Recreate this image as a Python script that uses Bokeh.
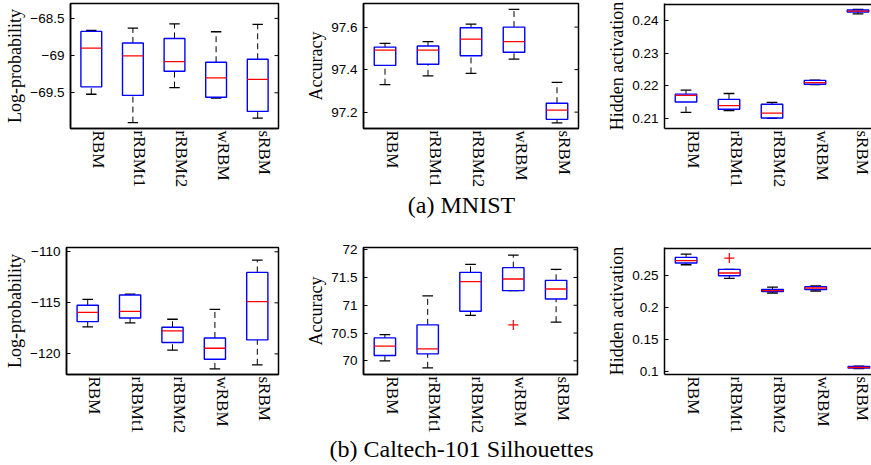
from bokeh.plotting import figure
from bokeh.layouts import column, row
from bokeh.models import Range1d, FixedTicker, Span
from bokeh.embed import file_html
from bokeh.resources import INLINE
from bokeh.core.properties import value

categories = ["RBM", "rRBMt1", "rRBMt2", "wRBM", "sRBM"]

# ---------- (a) MNIST ----------
mnist_logp_lo = [-69.52, -69.90, -69.43, -69.57, -69.84]
mnist_logp_q1 = [-69.42, -69.535, -69.21, -69.56, -69.75]
mnist_logp_med = [-68.90, -69.005, -69.08, -69.30, -69.32]
mnist_logp_q3 = [-68.675, -68.83, -68.77, -69.09, -69.05]
mnist_logp_hi = [-68.66, -68.63, -68.575, -68.68, -68.58]
mnist_logp_out_cat = []
mnist_logp_out_val = []
mnist_logp_ticks = [-69.5, -69.0, -68.5]
mnist_logp_tick_labels = ["\u221269.5", "\u221269", "\u221268.5"]

mnist_acc_lo = [97.329, 97.371, 97.382, 97.449, 97.149]
mnist_acc_q1 = [97.42, 97.425, 97.465, 97.482, 97.166]
mnist_acc_med = [97.492, 97.492, 97.543, 97.532, 97.209]
mnist_acc_q3 = [97.506, 97.511, 97.597, 97.60, 97.242]
mnist_acc_hi = [97.523, 97.532, 97.614, 97.683, 97.34]
mnist_acc_out_cat = []
mnist_acc_out_val = []
mnist_acc_ticks = [97.2, 97.4, 97.6]
mnist_acc_tick_labels = ["97.2", "97.4", "97.6"]

mnist_hid_lo = [0.2119, 0.2125, 0.2101, 0.2204, 0.2420]
mnist_hid_q1 = [0.2151, 0.2129, 0.2102, 0.2205, 0.2426]
mnist_hid_med = [0.2171, 0.2140, 0.2117, 0.2210, 0.2429]
mnist_hid_q3 = [0.2175, 0.2159, 0.2144, 0.2217, 0.2432]
mnist_hid_hi = [0.2187, 0.2177, 0.2150, 0.2218, 0.2434]
mnist_hid_out_cat = []
mnist_hid_out_val = []
mnist_hid_ticks = [0.21, 0.22, 0.23, 0.24]
mnist_hid_tick_labels = ["0.21", "0.22", "0.23", "0.24"]

# ---------- (b) Caltech-101 Silhouettes ----------
cal_logp_lo = [-117.36, -116.97, -119.64, -121.47, -121.07]
cal_logp_q1 = [-116.84, -116.48, -118.89, -120.52, -118.63]
cal_logp_med = [-115.93, -115.83, -117.75, -119.45, -114.89]
cal_logp_q3 = [-115.24, -114.23, -117.39, -118.44, -112.02]
cal_logp_hi = [-114.66, -114.15, -116.61, -115.64, -110.81]
cal_logp_out_cat = []
cal_logp_out_val = []
cal_logp_ticks = [-120, -115, -110]
cal_logp_tick_labels = ["\u2212120", "\u2212115", "\u2212110"]

cal_acc_lo = [70.00, 69.874, 70.82, 71.263, 70.695]
cal_acc_q1 = [70.096, 70.126, 70.892, 71.263, 71.114]
cal_acc_med = [70.263, 70.216, 71.425, 71.473, 71.293]
cal_acc_q3 = [70.413, 70.647, 71.593, 71.677, 71.449]
cal_acc_hi = [70.473, 71.168, 71.737, 71.904, 71.647]
cal_acc_out_cat = ["wRBM"]
cal_acc_out_val = [70.647]
cal_acc_ticks = [70, 70.5, 71, 71.5, 72]
cal_acc_tick_labels = ["70", "70.5", "71", "71.5", "72"]

cal_hid_lo = [0.2671, 0.2458, 0.2230, 0.2261, 0.1051]
cal_hid_q1 = [0.2697, 0.2500, 0.2251, 0.2282, 0.1057]
cal_hid_med = [0.2734, 0.2542, 0.2266, 0.2308, 0.1067]
cal_hid_q3 = [0.2786, 0.2599, 0.2287, 0.2329, 0.1082]
cal_hid_hi = [0.2838, 0.2599, 0.2323, 0.2339, 0.1088]
cal_hid_out_cat = ["rRBMt1"]
cal_hid_out_val = [0.2775]
cal_hid_ticks = [0.1, 0.15, 0.2, 0.25]
cal_hid_tick_labels = ["0.1", "0.15", "0.2", "0.25"]

captions = ["(a) MNIST", "(b) Caltech-101 Silhouettes"]

SANS = "Liberation Sans"
SERIF = "Liberation Serif"
BOX_W = 0.5
CAP_W = 0.25
LABEL_SHIFT = 0.17
FRAME_LW = 1.5


def panel(lo, q1, med, q3, hi, out_cat, out_val, ticks, tick_labels, ylabel,
          y_start, y_end, width, height, b_left, b_right, b_top, b_bottom,
          x_end=5.5, closed=True):
    p = figure(width=width, height=height, x_range=Range1d(0.5, x_end),
               y_range=Range1d(y_start, y_end), output_backend="svg",
               toolbar_location=None, min_border_left=b_left,
               min_border_right=b_right, min_border_top=b_top,
               min_border_bottom=b_bottom)
    p.grid.visible = False
    p.background_fill_color = "white"
    p.border_fill_color = "white"
    frame_h = height - b_top - b_bottom
    if closed:
        p.outline_line_color = "black"
        p.outline_line_width = FRAME_LW
        p.outline_line_alpha = 1.0
    else:
        # top edge only (the right edge is cut off by the page border)
        p.outline_line_color = None
        px = (y_end - y_start) / frame_h
        p.add_layout(Span(location=y_end - 0.8 * px, dimension="width",
                          line_color="black", line_width=FRAME_LW * 1.2))

    pos = [i + 1 for i in range(len(categories))]
    lab_pos = [x + LABEL_SHIFT for x in pos]

    xa = p.xaxis[0]
    xa.ticker = FixedTicker(ticks=lab_pos)
    xa.major_label_overrides = {lp: c for lp, c in zip(lab_pos, categories)}
    xa.major_label_orientation = "vertical"
    xa.major_tick_in = 0
    xa.major_tick_out = 0
    xa.minor_tick_line_color = None
    xa.axis_line_width = FRAME_LW
    xa.axis_line_color = "black"
    xa.major_label_standoff = 2
    xa.major_label_text_font = SERIF
    xa.major_label_text_font_size = "17px"
    xa.major_label_text_color = "black"

    ya = p.yaxis[0]
    ya.ticker = FixedTicker(ticks=ticks)
    ya.major_label_overrides = {t: l for t, l in zip(ticks, tick_labels)}
    ya.major_tick_in = 4
    ya.major_tick_out = 0
    ya.minor_tick_line_color = None
    ya.axis_line_width = FRAME_LW
    ya.axis_line_color = "black"
    ya.major_tick_line_color = "black"
    ya.major_label_standoff = 6
    ya.major_label_text_font = SANS
    ya.major_label_text_font_size = "13.5px"
    ya.major_label_text_color = "black"
    ya.axis_label = ylabel
    ya.axis_label_text_font = SERIF
    ya.axis_label_text_font_size = "18px"
    ya.axis_label_text_font_style = "normal"
    ya.axis_label_text_color = "black"
    ya.axis_label_standoff = 2

    if closed:
        # mirrored inner ticks on the right edge (half of the dash is clipped)
        p.scatter(x=[x_end] * len(ticks), y=ticks, marker="dash", size=8,
                  line_color="black", line_width=1)

    # whiskers
    p.segment(x0=pos, y0=q3, x1=pos, y1=hi, line_color="black",
              line_width=1, line_dash="6 4")
    p.segment(x0=pos, y0=lo, x1=pos, y1=q1, line_color="black",
              line_width=1, line_dash="6 4")
    p.segment(x0=[x - CAP_W / 2 for x in pos], y0=hi,
              x1=[x + CAP_W / 2 for x in pos], y1=hi,
              line_color="black", line_width=1.3)
    p.segment(x0=[x - CAP_W / 2 for x in pos], y0=lo,
              x1=[x + CAP_W / 2 for x in pos], y1=lo,
              line_color="black", line_width=1.3)
    # boxes
    p.quad(left=[x - BOX_W / 2 for x in pos], right=[x + BOX_W / 2 for x in pos],
           bottom=q1, top=q3, fill_color=None, line_color="blue",
           line_width=1.4)
    # medians
    p.segment(x0=[x - BOX_W / 2 for x in pos], y0=med,
              x1=[x + BOX_W / 2 for x in pos], y1=med,
              line_color="red", line_width=1.3)
    # outliers
    if out_cat:
        ox = [categories.index(c) + 1 for c in out_cat]
        p.scatter(x=ox, y=out_val, marker="cross", size=10,
                  line_color="red", line_width=1.2)
    return p


PAGE_W = 871


def caption(text, height, y, cx):
    c = figure(width=PAGE_W, height=height, x_range=Range1d(0, PAGE_W),
               y_range=Range1d(0, height), output_backend="svg",
               toolbar_location=None, min_border=0,
               x_axis_type=None, y_axis_type=None)
    c.grid.visible = False
    c.outline_line_color = None
    c.text(x=[cx], y=[y], text=[text], text_align="center",
           text_baseline="middle", text_font=value(SERIF),
           text_font_size="24px", text_color="black")
    return c


HA, TA, BA = 190, 3, 59
p1 = panel(mnist_logp_lo, mnist_logp_q1, mnist_logp_med, mnist_logp_q3, mnist_logp_hi,
           mnist_logp_out_cat, mnist_logp_out_val, mnist_logp_ticks,
           mnist_logp_tick_labels, "Log-probability", -69.98, -68.30,
           300, HA, 70, 22, TA, BA)
p2 = panel(mnist_acc_lo, mnist_acc_q1, mnist_acc_med, mnist_acc_q3, mnist_acc_hi,
           mnist_acc_out_cat, mnist_acc_out_val, mnist_acc_ticks,
           mnist_acc_tick_labels, "Accuracy", 97.123, 97.711,
           300, HA, 63, 22, TA, BA)
p3 = panel(mnist_hid_lo, mnist_hid_q1, mnist_hid_med, mnist_hid_q3, mnist_hid_hi,
           mnist_hid_out_cat, mnist_hid_out_val, mnist_hid_ticks,
           mnist_hid_tick_labels, "Hidden activation", 0.207, 0.2452,
           271, HA, 64, 0, TA, BA, x_end=0.5 + 207 / 43.0, closed=False)

HB, TB, BB = 215, 25, 63
p4 = panel(cal_logp_lo, cal_logp_q1, cal_logp_med, cal_logp_q3, cal_logp_hi,
           cal_logp_out_cat, cal_logp_out_val, cal_logp_ticks,
           cal_logp_tick_labels, "Log-probability", -122.02, -109.58,
           300, HB, 66, 22, TB, BB)
p5 = panel(cal_acc_lo, cal_acc_q1, cal_acc_med, cal_acc_q3, cal_acc_hi,
           cal_acc_out_cat, cal_acc_out_val, cal_acc_ticks,
           cal_acc_tick_labels, "Accuracy", 69.754, 72.04,
           300, HB, 63, 23, TB, BB)
p6 = panel(cal_hid_lo, cal_hid_q1, cal_hid_med, cal_hid_q3, cal_hid_hi,
           cal_hid_out_cat, cal_hid_out_val, cal_hid_ticks,
           cal_hid_tick_labels, "Hidden activation", 0.0958, 0.294,
           271, HB, 64, 0, TB, BB, x_end=0.5 + 207 / 43.2, closed=False)

capA = caption(captions[0], 32, 17.5, 461)
capB = caption(captions[1], 28, 17, 461)

layout = column(row(p1, p2, p3), capA, row(p4, p5, p6), capB)

open("out.html", "w").write(file_html(layout, INLINE))
